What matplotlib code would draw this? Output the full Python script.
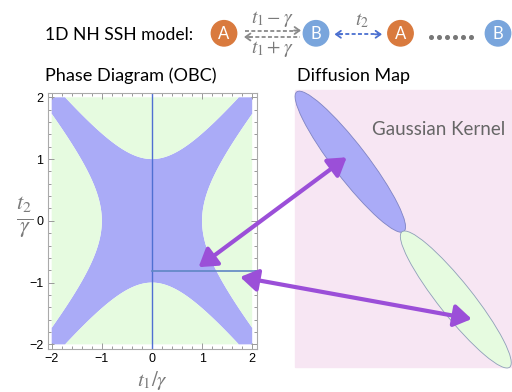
import numpy as np
import matplotlib
matplotlib.use("Agg")
import matplotlib.pyplot as plt
from matplotlib.patches import Ellipse, Rectangle, Circle, ConnectionPatch
from matplotlib.ticker import MultipleLocator

# ---------------- data ----------------
gamma = 1.0
t_range = [-2.0, 2.0]
major_ticks = [-2, -1, 0, 1, 2]
tick_labels = ["\u22122", "\u22121", "0", "1", "2"]
cut_t1 = 0.0            # vertical cut at t1/gamma = 0
cut_t2 = -0.82          # horizontal cut at t2/gamma
chain_labels = ["A", "B", "A", "B"]
hop_labels = [r"$t_1-\gamma$", r"$t_1+\gamma$", r"$t_2$"]
# phase-diagram ends of the purple arrows (t1/gamma, t2/gamma)
arrow_phase_pts = [(0.93, -0.75), (1.76, -0.91)]

# ---------------- layout (pixels) ----------------
W, H = 512, 392
fig = plt.figure(figsize=(W / 100, H / 100), dpi=100)
plt.rcParams["mathtext.fontset"] = "stix"

ax_l, ax_r, ax_t, ax_b = 47.7, 256.7, 93.3, 349.3
ax = fig.add_axes([ax_l / W, 1 - ax_b / H, (ax_r - ax_l) / W, (ax_b - ax_t) / H])
ax.set_zorder(1)

blue = "#aaabf7"
green = "#e6fbe0"
n = 801
t1 = np.linspace(t_range[0], t_range[1], n)
t2 = np.linspace(t_range[0], t_range[1], n)
T1, T2 = np.meshgrid(t1, t2)
Z = np.abs(T1 ** 2 - T2 ** 2)
ax.contourf(T1, T2, Z, levels=[0, gamma ** 2, 100], colors=[blue, green], antialiased=True)
ax.set_xlim(-2.08, 2.09)
ax.set_ylim(-2.08, 2.065)
ax.axvline(cut_t1, color="#4f6fd2", lw=1.0)
ax.plot([cut_t1, 2.09], [cut_t2, cut_t2], color="#5f86c4", lw=1.2)

ax.set_xticks(major_ticks)
ax.set_xticklabels(tick_labels)
ax.set_yticks(major_ticks)
ax.set_yticklabels(tick_labels)
ax.xaxis.set_minor_locator(MultipleLocator(0.2))
ax.yaxis.set_minor_locator(MultipleLocator(0.2))
ax.tick_params(which="both", direction="in", top=True, right=True, color="#999999",
               labelsize=9, pad=3, width=0.7)
ax.tick_params(which="major", length=4)
ax.tick_params(which="minor", length=2.2)
for s in ax.spines.values():
    s.set_color("#aaaaaa")
    s.set_linewidth(0.8)
for lab in ax.get_xticklabels() + ax.get_yticklabels():
    lab.set_fontfamily("Liberation Sans")

fig.text(152 / W, 1 - 381 / H, r"$t_1/\gamma$", color="#7a7a7a", fontsize=15,
         ha="center", va="center")
fig.text(24.5 / W, 1 - 218 / H, r"$\frac{t_2}{\gamma}$", color="#7a7a7a", fontsize=23,
         ha="center", va="center")

# ---------------- overlay (pixel coords) ----------------
ov = fig.add_axes([0, 0, 1, 1])
ov.set_zorder(2)
ov.patch.set_visible(False)
ov.set_xlim(0, W)
ov.set_ylim(H, 0)
ov.axis("off")

font = "Lato"
ov.text(45, 35, "1D NH SSH model:", fontsize=12.6, family=font, ha="left", va="center")
ov.text(45, 76, "Phase Diagram (OBC)", fontsize=13.1, family=font, ha="left", va="center")
ov.text(296.7, 76, "Diffusion Map", fontsize=12.9, family=font, ha="left", va="center")

# chain circles
orange = "#d97a3e"
lblue = "#79a5dc"
circ_x = [224, 316, 400.5, 498]
circ_colors = [orange, lblue, orange, lblue]
for cx, c, lab in zip(circ_x, circ_colors, chain_labels):
    ov.add_patch(Circle((cx, 33.3), 12.7, color=c, zorder=3))
    ov.text(cx, 34, lab, color="white", fontsize=12, family=font, ha="center",
            va="center", zorder=4)

# dots
ov.plot(np.linspace(431, 471, 6), [37] * 6, ls="none", marker="o", ms=2.6,
        color="#777777")

# gray hopping arrows
gcol = "#8a8a8a"
head = "->,head_length=0.35,head_width=0.25"
ov.plot([245, 296], [30.5, 30.5], ls=(0, (2.2, 1.3)), color=gcol, lw=1.3)
ov.annotate("", xy=(301, 30.5), xytext=(294, 30.5),
            arrowprops=dict(arrowstyle=head, color=gcol, lw=1.3, shrinkA=0, shrinkB=0))
ov.plot([249, 300], [37, 37], ls=(0, (2.2, 1.3)), color=gcol, lw=1.3)
ov.annotate("", xy=(244, 37), xytext=(251, 37),
            arrowprops=dict(arrowstyle=head, color=gcol, lw=1.3, shrinkA=0, shrinkB=0))
ov.text(272, 19, hop_labels[0], color="#7a7a7a", fontsize=14, ha="center", va="center")
ov.text(272, 48.5, hop_labels[1], color="#7a7a7a", fontsize=14, ha="center", va="center")

# blue t2 arrow
bcol = "#4a6fd0"
ov.plot([339, 378], [34.3, 34.3], ls=(0, (2.2, 1.3)), color=bcol, lw=1.3)
ov.annotate("", xy=(382, 34.3), xytext=(375, 34.3),
            arrowprops=dict(arrowstyle=head, color=bcol, lw=1.3, shrinkA=0, shrinkB=0))
ov.annotate("", xy=(334.5, 34.3), xytext=(341.5, 34.3),
            arrowprops=dict(arrowstyle=head, color=bcol, lw=1.3, shrinkA=0, shrinkB=0))
ov.text(361.5, 20, hop_labels[2], color="#7a7a7a", fontsize=14, ha="center", va="center")

# diffusion map panel
ov.add_patch(Rectangle((295, 90), 217, 277.3, color="#f7e6f3", zorder=1))
ov.add_patch(Ellipse((350.3, 161.7), 176, 34, angle=52.5, facecolor=blue,
                     edgecolor="#7f84c4", lw=0.6, zorder=2))
ov.add_patch(Ellipse((455.8, 299.5), 173, 34, angle=51.5, facecolor=green,
                     edgecolor="#8e9fb8", lw=0.6, zorder=2))
ov.text(439, 129.5, "Gaussian Kernel", color="#666666", fontsize=13.5, family=font,
        ha="center", va="center", zorder=3)

# purple arrows
pcol = "#9b4fd8"
diff_pts = [(346.7, 157.3), (471.7, 319)]
for pA, pB in zip(arrow_phase_pts, diff_pts):
    con = ConnectionPatch(xyA=pA, coordsA=ax.transData, xyB=pB, coordsB=ov.transData,
                          arrowstyle="<|-|>,head_length=0.75,head_width=0.48",
                          mutation_scale=14, color=pcol, lw=3.0, shrinkA=0, shrinkB=0,
                          zorder=5)
    ov.add_artist(con)

fig.savefig("out.png", dpi=100)
